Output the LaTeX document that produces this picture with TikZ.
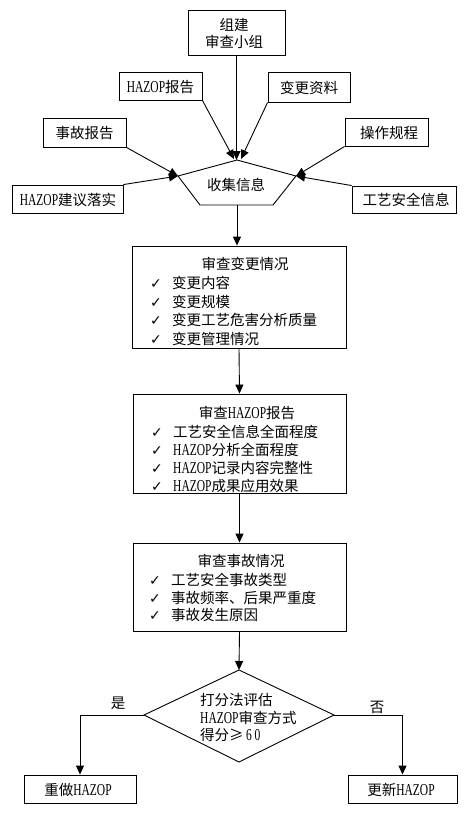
\documentclass[tikz,border=0pt]{standalone}
\usepackage{fontspec}
\setmainfont{Noto Sans CJK SC}
\newfontfamily\lat[FakeStretch=0.69,Scale=1.15]{Liberation Serif}
\newfontfamily\sym{DejaVu Sans}
\usetikzlibrary{arrows.meta,calc}
\newcommand\HZ{{\lat HAZOP}}
\newcommand\ck{\makebox[22pt][l]{\sym\fontsize{14}{14}\selectfont ✓}}
\tikzset{
  box/.style={draw, line width=0.9pt, inner sep=0pt},
  txt/.style={inner sep=0pt, font=\fontsize{14.5}{17}\selectfont},
  arr/.style={line width=0.9pt, -{Triangle[length=9pt,width=8pt]}},
  ln/.style={line width=0.9pt}
}
\begin{document}
\begin{tikzpicture}[x=1pt,y=-1pt]
\useasboundingbox (0,0) rectangle (467,816);
\fill[white] (0,0) rectangle (467,816);
% top boxes
\node[box, minimum width=97pt, minimum height=45pt] (zj) at (236.5,32.5) {};
\node[txt, align=center] (zjt) at (234,33.5) {组建\\审查小组};
\node[box, minimum width=83pt, minimum height=28pt] (hz) at (160.5,86) {};
\node[txt] (hzt) at (160.5,87) {\HZ 报告};
\node[box, minimum width=82pt, minimum height=30pt] (bg) at (309,87) {};
\node[txt] (bgt) at (309,88) {变更资料};
\node[box, minimum width=83pt, minimum height=29pt] (sg) at (84.5,132.5) {};
\node[txt] (sgt) at (84.5,133) {事故报告};
\node[box, minimum width=83pt, minimum height=28pt] (cz) at (386.5,132) {};
\node[txt] (czt) at (389,132.5) {操作规程};
\node[box, minimum width=111pt, minimum height=28pt] (jy) at (67.5,199) {};
\node[txt] (jyt) at (68,200) {\HZ 建议落实};
\node[box, minimum width=104pt, minimum height=27pt] (gy) at (404,199.5) {};
\node[txt] (gyt) at (406,200) {工艺安全信息};
% collect shape
\coordinate (ap) at (237,160);
\coordinate (cl) at (178,176);
\coordinate (cbl) at (200,205);
\coordinate (cbr) at (273,205);
\coordinate (cr) at (296,176);
\coordinate (cb) at (237,205);
\draw[ln, line join=miter] (ap)--(cr)--(cbr)--(cbl)--(cl)--cycle;
\node[txt] (sj) at (236,185) {收集信息};
\coordinate (a1) at (234,159);
\coordinate (a2) at (241,159);
\draw[arr] (zj.south) -- (zj.south |- ap);
\draw[arr] (hz.south east) -- (a1);
\draw[arr] (bg.south west) -- (a2);
\draw[arr] (sg.south east) -- (cl);
\draw[arr] (jy.north east) -- (cl);
\draw[arr] (cz.south west) -- (cr);
\draw[arr] (gy.north west) -- (cr);
% box 1
\node[box, minimum width=214pt, minimum height=102pt] (b1) at (239,297) {};
\draw[arr] (cb) -- (cb |- b1.north);
\node[txt] (b1h) at (245,263.5) {审查变更情况};
\node[txt, anchor=west] (b1a) at (150,283) {\ck 变更内容};
\node[txt, anchor=west] (b1b) at (150,301.5) {\ck 变更规模};
\node[txt, anchor=west] (b1c) at (150,320) {\ck 变更工艺危害分析质量};
\node[txt, anchor=west] (b1d) at (150,338.5) {\ck 变更管理情况};
% box 2
\node[box, minimum width=213pt, minimum height=99pt] (b2) at (239.5,443.5) {};
\draw[arr] (b1.south) -- (b2.north);
\node[txt] (b2h) at (247,412.5) {审查\HZ 报告};
\node[txt, anchor=west] (b2a) at (151,432) {\ck 工艺安全信息全面程度};
\node[txt, anchor=west] (b2b) at (151,450) {\ck \HZ 分析全面程度};
\node[txt, anchor=west] (b2c) at (151,468) {\ck \HZ 记录内容完整性};
\node[txt, anchor=west] (b2d) at (151,486) {\ck \HZ 成果应用效果};
% box 3
\node[box, minimum width=213pt, minimum height=88pt] (b3) at (239.5,587) {};
\draw[arr] (b2.south) -- (b3.north);
\node[txt] (b3h) at (241,560.5) {审查事故情况};
\node[txt, anchor=west] (b3a) at (149,580) {\ck 工艺安全事故类型};
\node[txt, anchor=west] (b3b) at (149,597.5) {\ck 事故频率、后果严重度};
\node[txt, anchor=west] (b3c) at (149,615) {\ck 事故发生原因};
% diamond
\coordinate (dt) at (239,670);
\coordinate (dr) at (334,715);
\coordinate (db) at (239,762);
\coordinate (dl) at (144,715);
\draw[arr] (b3.south) -- (dt);
\draw[ln, line join=miter] (dt)--(dr)--(db)--(dl)--cycle;
\node[txt, anchor=west] (d1) at (200,700) {打分法评估};
\node[txt, anchor=west] (d2) at (200,718) {\HZ 审查方式};
\node[txt, anchor=west] (d3) at (200,735.5) {得分≥\,{\lat 6\,0}};
% bottom
\node[box, minimum width=112pt, minimum height=28pt] (redo) at (80,789) {};
\node[txt] (redot) at (78,790) {重做\HZ};
\node[box, minimum width=109pt, minimum height=28pt] (upd) at (402.5,789) {};
\node[txt] (updt) at (401,790) {更新\HZ};
\draw[arr] (dl) -| (redo.north);
\draw[arr] (dr) -| (upd.north);
\node[txt] (yes) at (118,703) {是};
\node[txt] (no) at (377,707) {否};
\end{tikzpicture}
\end{document}
